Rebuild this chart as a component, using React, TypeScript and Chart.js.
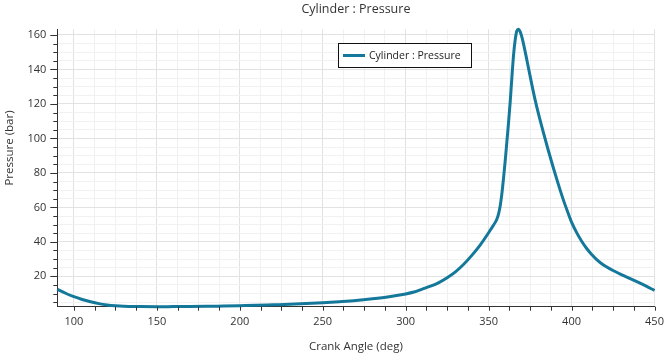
import React, { useEffect, useRef } from 'react';
import { Chart, registerables } from 'chart.js';

Chart.register(...registerables);

const chartTitle = 'Cylinder : Pressure';
const xTitle = 'Crank Angle (deg)';
const yTitle = 'Pressure (bar)';
const seriesName = 'Cylinder : Pressure';

const crankAngle = [
  90, 95, 100, 105, 110, 115, 120, 125, 130, 140, 150, 160, 170, 180, 190, 200,
  210, 220, 230, 240, 250, 260, 270, 280, 290, 300, 305, 310, 315, 320, 325, 330,
  335, 340, 345, 350, 352, 354, 355, 356, 357, 358, 359, 360, 361, 362, 363, 364,
  365, 366, 367, 368, 369, 370, 372, 374, 376, 378, 380, 383, 386, 389, 392, 395,
  398, 400, 403, 406, 409, 412, 415, 418, 421, 425, 430, 435, 440, 445, 450,
];
const pressure = [
  12.5, 10.2, 8.2, 6.6, 5.3, 4.2, 3.4, 2.9, 2.6, 2.45, 2.4, 2.45, 2.5, 2.6, 2.8, 3.0,
  3.2, 3.5, 3.8, 4.2, 4.7, 5.3, 6.0, 7.0, 8.2, 9.8, 10.9, 12.6, 14.3, 16.4, 19.2, 22.6,
  27.0, 32.3, 38.3, 45.3, 48.3, 51.3, 53.3, 56.3, 61, 68, 77, 87, 98, 109, 121, 135,
  148, 157, 162.3, 163.3, 162, 159, 150.5, 141, 131.5, 122.5, 114.5, 103.5, 93, 83, 73.5, 64.5,
  56.5, 51.5, 45.5, 40.5, 36.3, 32.8, 29.9, 27.5, 25.6, 23.4, 21, 18.8, 16.6, 14.3, 11.8,
];

const xTickLabels = [100, 150, 200, 250, 300, 350, 400, 450];
const xMinorPerMajor = 4;
const yTickLabels = [20, 40, 60, 80, 100, 120, 140, 160];
const yMinorPerMajor = 4;

const LINE_COLOR = '#14789a';
const FONT = '"Open Sans", "Noto Sans", sans-serif';
const TEXT = '#333333';

function buildTicks(labels: number[], perMajor: number, min: number, max: number) {
  const step = (labels[1] - labels[0]) / perMajor;
  const out: number[] = [];
  for (let v = labels[0] - step * perMajor; v <= labels[labels.length - 1] + 1e-9; v += step) {
    const r = Math.round(v * 1000) / 1000;
    if (r >= min - 1e-9 && r <= max + 1e-9) out.push(r);
  }
  return out;
}

export default function App() {
  const ref = useRef<HTMLCanvasElement | null>(null);

  useEffect(() => {
    if (!ref.current) return;
    const xMin = crankAngle[0];
    const xMax = crankAngle[crankAngle.length - 1];
    const yMin = Math.min(...pressure);
    const yMax = Math.max(...pressure);
    const xStep = xTickLabels[1] - xTickLabels[0];
    const yStep = yTickLabels[1] - yTickLabels[0];

    const decor = {
      id: 'decor',
      afterDraw(chart: any) {
        const { ctx, chartArea: ca, scales } = chart;
        const x = scales.x;
        const y = scales.y;
        ctx.save();
        ctx.strokeStyle = '#333';
        ctx.lineWidth = 1;
        ctx.beginPath();
        for (const t of y.ticks) {
          const py = Math.round(y.getPixelForValue(t.value)) + 0.5;
          const major = Math.abs(t.value % yStep) < 1e-6;
          ctx.moveTo(ca.left - (major ? 7 : 4), py);
          ctx.lineTo(ca.left, py);
        }
        for (const t of x.ticks) {
          const px = Math.round(x.getPixelForValue(t.value)) + 0.5;
          ctx.moveTo(px, ca.bottom);
          ctx.lineTo(px, ca.bottom + 4);
        }
        ctx.stroke();

        // y-axis title
        ctx.save();
        ctx.translate(10, 148);
        ctx.rotate(-Math.PI / 2);
        ctx.font = `11.5px ${FONT}`;
        ctx.fillStyle = TEXT;
        ctx.textAlign = 'center';
        ctx.textBaseline = 'middle';
        ctx.fillText(yTitle, 0, 0);
        ctx.restore();

        // legend box
        const lx = 338.5, ly = 43.5, lw = 133, lh = 24;
        ctx.fillStyle = '#ffffff';
        ctx.fillRect(lx, ly, lw, lh);
        ctx.strokeStyle = '#111';
        ctx.lineWidth = 1;
        ctx.strokeRect(lx, ly, lw, lh);
        ctx.strokeStyle = LINE_COLOR;
        ctx.lineWidth = 3;
        ctx.beginPath();
        ctx.moveTo(343, ly + lh / 2);
        ctx.lineTo(365, ly + lh / 2);
        ctx.stroke();
        ctx.font = `10.5px ${FONT}`;
        ctx.fillStyle = '#222';
        ctx.textAlign = 'left';
        ctx.textBaseline = 'middle';
        ctx.fillText(seriesName, 369, ly + lh / 2 + 0.5);
        ctx.restore();
      },
    };

    const chart = new Chart(ref.current, {
      type: 'line',
      data: {
        datasets: [
          {
            label: seriesName,
            data: crankAngle.map((a, i) => ({ x: a, y: pressure[i] })),
            borderColor: LINE_COLOR,
            backgroundColor: LINE_COLOR,
            borderWidth: 3,
            pointRadius: 0,
            fill: false,
            clip: false,
            cubicInterpolationMode: 'monotone',
          },
        ],
      },
      options: {
        responsive: false,
        animation: false,
        layout: { padding: { left: 0, right: 9.5, top: 0, bottom: 0 } },
        plugins: {
          legend: { display: false },
          tooltip: { enabled: false },
          title: {
            display: true,
            text: chartTitle,
            fullSize: false,
            color: TEXT,
            font: { family: FONT, size: 12.5, weight: 'normal' },
            padding: { top: 2, bottom: 12.3 },
          },
        },
        scales: {
          x: {
            type: 'linear',
            min: xMin,
            max: xMax,
            afterBuildTicks: (s: any) => {
              s.ticks = buildTicks(xTickLabels, xMinorPerMajor, xMin, xMax).map((v) => ({ value: v }));
            },
            afterFit: (s: any) => {
              s.height = 48.3;
              s.paddingLeft = 0;
              s.paddingRight = 0;
            },
            grid: {
              drawTicks: false,
              color: (c: any) => (c.tick && Math.abs(c.tick.value % xStep) < 1e-6 ? '#e2e2e2' : '#f1f1f1'),
            },
            border: { display: true, color: '#333', width: 1 },
            ticks: {
              autoSkip: false,
              maxRotation: 0,
              padding: 9,
              color: TEXT,
              font: { family: FONT, size: 11 },
              callback: (v: any) => (xTickLabels.includes(Number(v)) ? String(v) : ''),
            },
            title: {
              display: true,
              text: xTitle,
              color: TEXT,
              font: { family: FONT, size: 11.5 },
              padding: { top: 0, bottom: 1.2 },
            },
          },
          y: {
            type: 'linear',
            min: yMin,
            max: yMax,
            afterBuildTicks: (s: any) => {
              s.ticks = buildTicks(yTickLabels, yMinorPerMajor, yMin, yMax).map((v) => ({ value: v }));
            },
            afterFit: (s: any) => {
              s.width = 57.3;
              s.paddingTop = 0;
              s.paddingBottom = 0;
            },
            grid: {
              drawTicks: false,
              color: (c: any) => (c.tick && Math.abs(c.tick.value % yStep) < 1e-6 ? '#e2e2e2' : '#f1f1f1'),
            },
            border: { display: true, color: '#333', width: 1 },
            ticks: {
              autoSkip: false,
              padding: 11,
              color: TEXT,
              font: { family: FONT, size: 11 },
              callback: (v: any) => (yTickLabels.includes(Number(v)) ? String(v) : ''),
            },
            title: { display: false },
          },
        },
      },
      plugins: [decor],
    } as any);

    return () => chart.destroy();
  }, []);

  return (
    <div style={{ position: 'fixed', left: 0, top: 0, width: 664, height: 355, background: '#fff' }}>
      <canvas ref={ref} width={664} height={355} style={{ display: 'block' }} />
    </div>
  );
}
